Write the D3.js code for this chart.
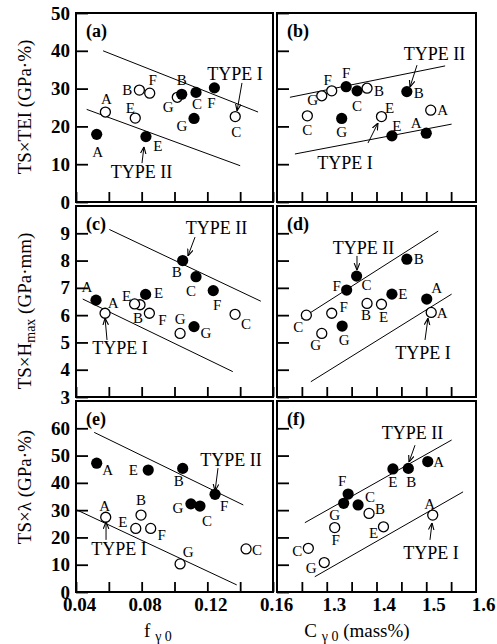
<!DOCTYPE html>
<html>
<head>
<meta charset="utf-8">
<script src="https://cdn.jsdelivr.net/npm/d3@7"></script>
<style>
  body { margin: 0; background: #fff; }
  text { font-family: "Liberation Serif", "Times New Roman", serif; fill: #000; }
</style>
</head>
<body>
<div id="chart"></div>
<script>
// steel order used by every point array below
const steels = ['A', 'B', 'C', 'E', 'F', 'G'];

// axis ticks
const fTicks = [0.04, 0.06, 0.08, 0.10, 0.12, 0.14, 0.16];
const fTickLabels = [0.04, 0.08, 0.12, 0.16];
const cTicks = [1.25, 1.3, 1.35, 1.4, 1.45, 1.5, 1.55];
const cTickLabels = [1.3, 1.4, 1.5, 1.6];
const teiTicks = [0, 10, 20, 30, 40, 50];
const hmaxTicks = [3, 4, 5, 6, 7, 8, 9];
const lamTicks = [0, 10, 20, 30, 40, 50, 60];

// (a) TS x TEI vs f_g0   (1 = TYPE I open, 2 = TYPE II filled)
const ptsA1 = [[0.0579, 23.8], [0.0786, 29.6], [0.1370, 22.6], [0.0761, 22.2], [0.0849, 28.8], [0.1017, 27.7]];
const ptsA2 = [[0.0526, 17.9], [0.1044, 28.5], [0.1131, 29.0], [0.0826, 17.3], [0.1243, 30.2], [0.1119, 22.1]];
const lineA1 = [[0.0565, 40.0], [0.1509, 23.8]];
const lineA2 = [[0.0465, 24.5], [0.1400, 9.6]];

// (b) TS x TEI vs C_g0
const ptsB1 = [[1.509, 24.3], [1.381, 30.1], [1.261, 22.8], [1.410, 22.6], [1.310, 29.4], [1.290, 28.1]];
const ptsB2 = [[1.500, 18.2], [1.461, 29.2], [1.361, 29.4], [1.431, 17.5], [1.339, 30.5], [1.330, 22.1]];
const lineB1 = [[1.236, 12.7], [1.551, 20.6]];
const lineB2 = [[1.226, 27.7], [1.538, 36.0]];

// (c) TS x Hmax vs f_g0
const ptsC1 = [[0.0577, 6.07], [0.0790, 6.38], [0.1369, 6.03], [0.0757, 6.41], [0.0847, 6.07], [0.1034, 5.33]];
const ptsC2 = [[0.0522, 6.55], [0.1050, 8.00], [0.1131, 7.41], [0.0824, 6.76], [0.1236, 6.90], [0.1119, 5.58]];
const lineC1 = [[0.0441, 6.59], [0.1355, 3.93]];
const lineC2 = [[0.0603, 9.14], [0.1526, 6.51]];

// (d) TS x Hmax vs C_g0
const ptsD1 = [[1.510, 6.10], [1.381, 6.43], [1.259, 6.00], [1.410, 6.40], [1.310, 6.07], [1.290, 5.33]];
const ptsD2 = [[1.501, 6.59], [1.461, 8.05], [1.360, 7.43], [1.431, 6.77], [1.340, 6.92], [1.331, 5.60]];
const lineD1 = [[1.268, 3.56], [1.551, 6.77]];
const lineD2 = [[1.249, 5.88], [1.524, 9.08]];

// (e) TS x lambda vs f_g0
const ptsE1 = [[0.0581, 27.4], [0.0796, 28.2], [0.1436, 15.8], [0.0764, 23.3], [0.0855, 23.3], [0.1034, 10.3]];
const ptsE2 = [[0.0526, 47.2], [0.1050, 45.3], [0.1155, 31.5], [0.0840, 44.7], [0.1247, 35.8], [0.1100, 32.3]];
const lineE1 = [[0.0404, 30.1], [0.1379, 2.6]];
const lineE2 = [[0.0511, 58.5], [0.1419, 31.9]];

// (f) TS x lambda vs C_g0
const ptsF1 = [[1.513, 28.2], [1.385, 28.8], [1.263, 16.0], [1.414, 23.9], [1.316, 23.6], [1.295, 10.8]];
const ptsF2 = [[1.503, 47.8], [1.464, 45.3], [1.363, 31.9], [1.433, 45.1], [1.343, 35.9], [1.334, 32.5]];
const lineF1 = [[1.276, 5.6], [1.574, 36.7]];
const lineF2 = [[1.256, 25.4], [1.551, 55.7]];

// TYPE I / TYPE II callouts: text position, arrow start, arrow end (data units)
const notesA = [['TYPE I', [0.1369, 32.3], [0.1411, 31.5], [0.1381, 24.1]], ['TYPE II', [0.0799, 6.35], [0.0802, 10.3], [0.0814, 14.6]]];
const notesB = [['TYPE II', [1.5166, 37.6], [1.4814, 36.2], [1.4673, 30.4]], ['TYPE I', [1.3367, 8.7], [1.3829, 15.6], [1.403, 20.9]]];
const notesC = [['TYPE II', [0.1256, 8.97], [0.1125, 8.86], [0.1082, 8.17]], ['TYPE I', [0.0668, 4.58], [0.0589, 5.09], [0.0577, 5.89]]];
const notesD = [['TYPE II', [1.3739, 8.24], [1.3608, 8.17], [1.3608, 7.65]], ['TYPE I', [1.4935, 4.39], [1.4975, 5.09], [1.5035, 5.89]]];
const notesE = [['TYPE II', [0.1344, 46.2], [0.1265, 45.4], [0.1247, 37.0]], ['TYPE I', [0.0662, 13.6], [0.0583, 19.1], [0.0583, 25.7]]];
const notesF = [['TYPE II', [1.4724, 56.1], [1.4774, 53.8], [1.4653, 47.6]], ['TYPE I', [1.5095, 12.1], [1.5075, 19.1], [1.5116, 25.3]]];

// letter offsets (px) from each point, same order as steels
const labA1 = [[1, -13], [-12, 0], [1, 15], [-5, -10], [3, -13], [-9, 10]];
const labA2 = [[1, 18], [0, -14], [1, 12], [12, 9], [-3, 15], [-12, 8]];
const labB1 = [[12, 0], [12, 3], [0, 14], [8, -9], [-4, -11], [-9, 4]];
const labB2 = [[-10, -10], [12, 1], [0, 15], [5, -10], [0, -14], [0, 14]];
const labC1 = [[8, -10], [-2, 13], [11, 10], [-8, -8], [13, 7], [0, -14]];
const labC2 = [[-9, -13], [-6, 11], [-5, 14], [13, -1], [4, 14], [12, 6]];
const labD1 = [[11, 1], [-1, 12], [-8, 12], [2, 13], [12, -6], [-6, 12]];
const labD2 = [[10, -11], [12, 0], [10, 9], [11, 0], [-10, -4], [2, 14]];
const labE1 = [[-1, -11], [0, -15], [11, 1], [-13, -6], [11, 7], [8, -12]];
const labE2 = [[11, 7], [-4, 13], [7, 15], [-15, 0], [9, 12], [-13, 4]];
const labF1 = [[-3, -11], [11, -4], [-11, 3], [-10, 6], [1, 12], [-13, 5]];
const labF2 = [[11, 0], [3, 14], [12, -8], [0, 13], [-6, -13], [-9, 12]];

const svg = d3.select('#chart').append('svg')
  .attr('width', 497)
  .attr('height', 644);

svg.append('rect').attr('width', 497).attr('height', 644).attr('fill', '#fff');

svg.append('defs').append('marker')
  .attr('id', 'arr')
  .attr('viewBox', '0 -5 10 10')
  .attr('refX', 10)
  .attr('refY', 0)
  .attr('markerUnits', 'userSpaceOnUse')
  .attr('markerWidth', 7)
  .attr('markerHeight', 7)
  .attr('orient', 'auto')
  .append('path')
  .attr('d', 'M0,-4L10,0L0,4')
  .attr('fill', 'none')
  .attr('stroke', '#000')
  .attr('stroke-width', 1.6);

// layout
const cols = [[76, 273], [277, 476]];
const rows = [[13, 202], [206, 397], [401, 592]];
const xScales = [
  d3.scaleLinear().domain([0.04, 0.16]).range(cols[0]),
  d3.scaleLinear().domain([1.2, 1.6]).range(cols[1])
];
const yScales = [
  d3.scaleLinear().domain([0, 50]).range([rows[0][1], rows[0][0]]),
  d3.scaleLinear().domain([3, 10]).range([rows[1][1], rows[1][0]]),
  d3.scaleLinear().domain([0, 70]).range([rows[2][1], rows[2][0]])
];
const yTicks = [teiTicks, hmaxTicks, lamTicks];
const xTicks = [fTicks, cTicks];

const panels = [
  { tag: '(a)', col: 0, row: 0, p1: ptsA1, p2: ptsA2, l1: lineA1, l2: lineA2, lab1: labA1, lab2: labA2, notes: notesA },
  { tag: '(b)', col: 1, row: 0, p1: ptsB1, p2: ptsB2, l1: lineB1, l2: lineB2, lab1: labB1, lab2: labB2, notes: notesB },
  { tag: '(c)', col: 0, row: 1, p1: ptsC1, p2: ptsC2, l1: lineC1, l2: lineC2, lab1: labC1, lab2: labC2, notes: notesC },
  { tag: '(d)', col: 1, row: 1, p1: ptsD1, p2: ptsD2, l1: lineD1, l2: lineD2, lab1: labD1, lab2: labD2, notes: notesD },
  { tag: '(e)', col: 0, row: 2, p1: ptsE1, p2: ptsE2, l1: lineE1, l2: lineE2, lab1: labE1, lab2: labE2, notes: notesE },
  { tag: '(f)', col: 1, row: 2, p1: ptsF1, p2: ptsF2, l1: lineF1, l2: lineF2, lab1: labF1, lab2: labF2, notes: notesF }
];

panels.forEach(p => {
  const x = xScales[p.col];
  const y = yScales[p.row];
  const [x0, x1] = cols[p.col];
  const [y0, y1] = rows[p.row];
  const g = svg.append('g');

  // y ticks (inward); labels only on the left column
  const yAxis = g.append('g')
    .attr('transform', `translate(${x0},0)`)
    .call(d3.axisLeft(y)
      .tickValues(yTicks[p.row])
      .tickSizeInner(-12)
      .tickSizeOuter(0)
      .tickPadding(6)
      .tickFormat(p.col === 0 ? d3.format('d') : ''));
  yAxis.select('.domain').remove();
  yAxis.selectAll('line').attr('stroke', '#000').attr('stroke-width', 1.8);
  yAxis.selectAll('text')
    .attr('font-family', 'Liberation Serif')
    .attr('font-size', 19)
    .attr('font-weight', 'bold')
    .attr('fill', '#000');

  // x ticks (inward)
  const xAxis = g.append('g')
    .attr('transform', `translate(0,${y1})`)
    .call(d3.axisBottom(x)
      .tickValues(xTicks[p.col])
      .tickSizeInner(-10)
      .tickSizeOuter(0)
      .tickFormat(''));
  xAxis.select('.domain').remove();
  xAxis.selectAll('line').attr('stroke', '#000').attr('stroke-width', 1.8);

  // x tick labels under the bottom row
  if (p.row === 2) {
    const lab = g.append('g')
      .attr('transform', `translate(0,${y1})`)
      .call(d3.axisBottom(x)
        .tickValues(p.col === 0 ? fTickLabels : cTickLabels)
        .tickSize(0)
        .tickPadding(6)
        .tickFormat(d3.format(p.col === 0 ? '.2f' : '.1f')));
    lab.select('.domain').remove();
    lab.selectAll('text')
      .attr('font-family', 'Liberation Serif')
      .attr('font-size', 19)
      .attr('font-weight', 'bold')
      .attr('fill', '#000')
      .attr('dx', p.col === 0 ? 3 : 7);
  }

  // frame
  g.append('rect')
    .attr('x', x0)
    .attr('y', y0)
    .attr('width', x1 - x0)
    .attr('height', y1 - y0)
    .attr('fill', 'none')
    .attr('stroke', '#000')
    .attr('stroke-width', 2);

  // panel tag
  g.append('text')
    .attr('x', x0 + 10)
    .attr('y', y0 + 24)
    .attr('font-size', 18)
    .attr('font-weight', 'bold')
    .text(p.tag);

  // regression lines
  const line = d3.line().x(d => x(d[0])).y(d => y(d[1]));
  [p.l1, p.l2].forEach(l => {
    g.append('path')
      .attr('d', line(l))
      .attr('fill', 'none')
      .attr('stroke', '#000')
      .attr('stroke-width', 1);
  });

  // open (TYPE I) and filled (TYPE II) points
  g.selectAll('circle.t1')
    .data(p.p1)
    .join('circle')
    .attr('class', 't1')
    .attr('cx', d => x(d[0]))
    .attr('cy', d => y(d[1]))
    .attr('r', 5)
    .attr('fill', '#fff')
    .attr('stroke', '#000')
    .attr('stroke-width', 1.3);

  g.selectAll('circle.t2')
    .data(p.p2)
    .join('circle')
    .attr('class', 't2')
    .attr('cx', d => x(d[0]))
    .attr('cy', d => y(d[1]))
    .attr('r', 5.6)
    .attr('fill', '#000');

  // steel letters
  [[p.p1, p.lab1], [p.p2, p.lab2]].forEach(([pts, offs]) => {
    pts.forEach((d, i) => {
      g.append('text')
        .attr('x', x(d[0]) + offs[i][0])
        .attr('y', y(d[1]) + offs[i][1])
        .attr('text-anchor', 'middle')
        .attr('dominant-baseline', 'central')
        .attr('font-size', 15)
        .text(steels[i]);
    });
  });

  // TYPE callouts
  p.notes.forEach(([txt, at, from, to]) => {
    g.append('text')
      .attr('x', x(at[0]))
      .attr('y', y(at[1]))
      .attr('text-anchor', 'middle')
      .attr('font-size', 18)
      .text(txt);
    g.append('line')
      .attr('x1', x(from[0]))
      .attr('y1', y(from[1]))
      .attr('x2', x(to[0]))
      .attr('y2', y(to[1]))
      .attr('stroke', '#000')
      .attr('stroke-width', 1)
      .attr('marker-end', 'url(#arr)');
  });
});

// y axis titles
const yTitles = [
  { row: 0, cy: 107, parts: [['TS×TEI (GPa·%)', false]] },
  { row: 1, cy: 311, parts: [['TS×H', false], ['max', true], [' (GPa·mm)', false]] },
  { row: 2, cy: 487, parts: [['TS×λ (GPa·%)', false]] }
];
yTitles.forEach(t => {
  const txt = svg.append('text')
    .attr('transform', `translate(31,${t.cy}) rotate(-90)`)
    .attr('text-anchor', 'middle')
    .attr('font-size', 19);
  t.parts.forEach(([s, sub]) => {
    const ts = txt.append('tspan').text(s);
    if (sub) ts.attr('font-size', 14).attr('baseline-shift', '-25%');
  });
});

// x axis titles
const xt1 = svg.append('text')
  .attr('x', 158)
  .attr('y', 637)
  .attr('text-anchor', 'middle')
  .attr('font-size', 19);
xt1.append('tspan').text('f ');
xt1.append('tspan').attr('font-size', 14).attr('baseline-shift', '-25%').text('γ 0');

const xt2 = svg.append('text')
  .attr('x', 357)
  .attr('y', 637)
  .attr('text-anchor', 'middle')
  .attr('font-size', 19);
xt2.append('tspan').text('C ');
xt2.append('tspan').attr('font-size', 14).attr('baseline-shift', '-25%').text('γ 0');
xt2.append('tspan').text(' (mass%)');
</script>
</body>
</html>
